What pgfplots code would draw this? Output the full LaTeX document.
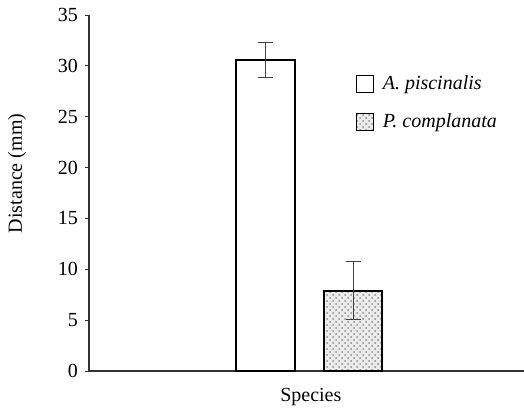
\documentclass[border=0pt]{standalone}
\usepackage{pgfplots}
\pgfplotsset{compat=1.18}
\usetikzlibrary{patterns}
\usepackage{fontspec}
\setmainfont{Liberation Serif}
\begin{document}
\begin{tikzpicture}
\path[use as bounding box] (-44.5pt,-20.5pt) rectangle (217.5pt,185.5pt);
\begin{axis}[
  scale only axis, width=217.5pt, height=178pt,
  xmin=0, xmax=435, ymin=0, ymax=35,
  axis x line=bottom, axis y line=left,
  axis line style={-, black!80, line width=0.6pt},
  xtick=\empty,
  ytick={0,5,...,35},
  tick align=outside, major tick length=2pt,
  tick style={black!80, line width=0.5pt},
  /pgf/number format/assume math mode=true,
  font=\fontsize{10}{12}\selectfont,
  ylabel={Distance (mm)}, xlabel={Species},
  ylabel style={at={(axis description cs:-0.1655,0.555)}, anchor=center, rotate=0},
  xlabel style={at={(axis description cs:0.51,-0.073)}, anchor=center},
  legend style={draw=none, fill=none, at={(0.6,0.853)}, anchor=north west,
    font=\itshape\fontsize{10}{12}\selectfont, row sep=6.5pt, cells={anchor=west}},
  legend image code/.code={\draw[#1, line width=0.4pt] (0pt,-4.25pt) rectangle (8.5pt,4.25pt);
    \path (10.5pt,0pt);},
  error bars/error bar style={black!75, line width=0.5pt},
  error bars/error mark options={rotate=90, black!75, line width=0.5pt, mark size=3.75pt},
]
\addplot[ybar, bar shift=0pt, bar width=58.5, draw=black, line width=1pt, fill=white,
  error bars/.cd, y dir=both, y explicit]
  coordinates {(176.5,30.6) +- (0,1.72)};
\addlegendentry{A. piscinalis}
\addplot[ybar, bar shift=0pt, bar width=58.5, draw=black, line width=1pt, fill=black!8,
  postaction={pattern=crosshatch dots, pattern color=black!45},
  error bars/.cd, y dir=both, y explicit]
  coordinates {(264,7.9) +- (0,2.85)};
\addlegendentry{P. complanata}
\end{axis}
\end{tikzpicture}
\end{document}
